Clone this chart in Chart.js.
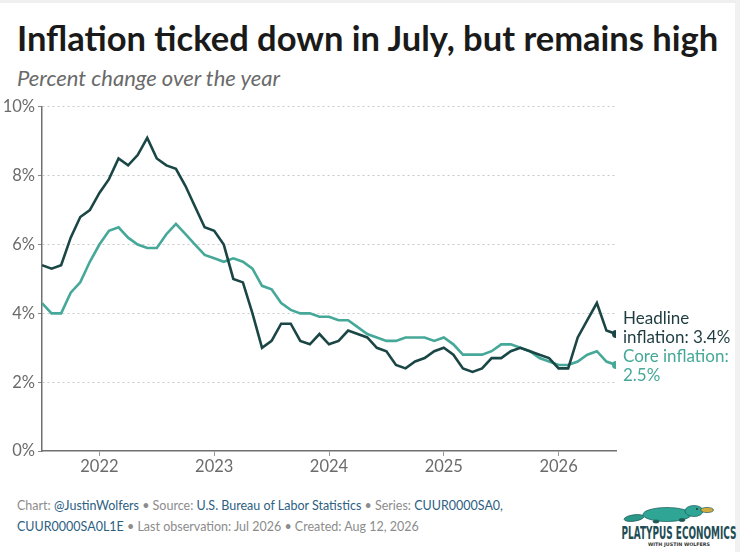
<!DOCTYPE html>
<html>
<head>
<meta charset="utf-8">
<script src="https://cdn.jsdelivr.net/npm/chart.js@4/dist/chart.umd.min.js"></script>
<style>
  html, body { margin: 0; padding: 0; background: #fff; }
  body { width: 740px; height: 552px; position: relative; overflow: hidden; font-family: Lato, sans-serif; }
  .topband { position: absolute; left: 0; top: 0; width: 740px; height: 3px; background: #efefef; }
  .rightband { position: absolute; left: 735px; top: 0; width: 5px; height: 552px; background: #f1f1f1; }
  #title { position: absolute; left: 17px; top: 21px; font-size: 34.5px; line-height: 34.5px; font-weight: 700; color: #1a1a1a; white-space: nowrap; }
  #subtitle { position: absolute; left: 17px; top: 67px; font-size: 22px; line-height: 22px; font-style: italic; color: #6a6a6a; white-space: nowrap; }
  #wrap { position: absolute; left: 0; top: 94px; width: 740px; height: 392px; }
  #footer { position: absolute; left: 17px; top: 495px; font-size: 12.5px; line-height: 21px; color: #8c8c8c; white-space: nowrap; }
  #footer .lk { color: #2d6082; }
  #logo { position: absolute; left: 620px; top: 500px; }
</style>
</head>
<body>
<div class="topband"></div>
<div class="rightband"></div>
<div id="title">Inflation ticked down in July, but remains high</div>
<div id="subtitle">Percent change over the year</div>
<div id="wrap"><canvas id="chart"></canvas></div>
<div id="footer">
  Chart: <span class="lk">@JustinWolfers</span> • Source: <span class="lk">U.S. Bureau of Labor Statistics</span> • Series: <span class="lk">CUUR0000SA0,</span><br>
  <span class="lk">CUUR0000SA0L1E</span> • Last observation: Jul 2026 • Created: Aug 12, 2026
</div>
<svg id="logo" width="118" height="48" viewBox="0 0 118 48">
  <g stroke="#1d5a57" stroke-width="0.7">
    <ellipse cx="14" cy="18" rx="10" ry="3.2" transform="rotate(-8 14 18)" fill="#2a9888"/>
    <ellipse cx="47" cy="14.5" rx="24" ry="7" fill="#2fa596"/>
    <ellipse cx="74" cy="11" rx="9" ry="5.5" fill="#2fa596"/>
    <ellipse cx="87" cy="10" rx="6.5" ry="2.6" fill="#d2ab3e"/>
    <ellipse cx="36" cy="21.5" rx="3" ry="1.6" fill="#1d5a57"/>
    <ellipse cx="62" cy="20" rx="3" ry="1.6" fill="#1d5a57"/>
  </g>
  <circle cx="77" cy="9" r="0.9" fill="#1a2a2a"/>
  <text x="59" y="38.5" text-anchor="middle" font-family="'Liberation Sans Narrow', 'DejaVu Sans Condensed', sans-serif" font-weight="700" font-size="17" fill="#1f4d55" textLength="115" lengthAdjust="spacingAndGlyphs">PLATYPUS ECONOMICS</text>
  <text x="59" y="45.5" text-anchor="middle" font-family="'DejaVu Sans', sans-serif" font-weight="700" font-size="4.8" fill="#333" textLength="62" lengthAdjust="spacingAndGlyphs">WITH JUSTIN WOLFERS</text>
</svg>
<script>
// monthly, Jul 2021 .. Jul 2026
const months = [
  'Jul 2021','Aug 2021','Sep 2021','Oct 2021','Nov 2021','Dec 2021',
  'Jan 2022','Feb 2022','Mar 2022','Apr 2022','May 2022','Jun 2022','Jul 2022','Aug 2022','Sep 2022','Oct 2022','Nov 2022','Dec 2022',
  'Jan 2023','Feb 2023','Mar 2023','Apr 2023','May 2023','Jun 2023','Jul 2023','Aug 2023','Sep 2023','Oct 2023','Nov 2023','Dec 2023',
  'Jan 2024','Feb 2024','Mar 2024','Apr 2024','May 2024','Jun 2024','Jul 2024','Aug 2024','Sep 2024','Oct 2024','Nov 2024','Dec 2024',
  'Jan 2025','Feb 2025','Mar 2025','Apr 2025','May 2025','Jun 2025','Jul 2025','Aug 2025','Sep 2025','Oct 2025','Nov 2025','Dec 2025',
  'Jan 2026','Feb 2026','Mar 2026','Apr 2026','May 2026','Jun 2026','Jul 2026'
];

const headline = [
  5.4, 5.3, 5.4, 6.2, 6.8, 7.0,
  7.5, 7.9, 8.5, 8.3, 8.6, 9.1, 8.5, 8.3, 8.2, 7.7, 7.1, 6.5,
  6.4, 6.0, 5.0, 4.9, 4.0, 3.0, 3.2, 3.7, 3.7, 3.2, 3.1, 3.4,
  3.1, 3.2, 3.5, 3.4, 3.3, 3.0, 2.9, 2.5, 2.4, 2.6, 2.7, 2.9,
  3.0, 2.8, 2.4, 2.3, 2.4, 2.7, 2.7, 2.9, 3.0, 2.9, 2.8, 2.7,
  2.4, 2.4, 3.3, 3.8, 4.3, 3.5, 3.4
];

const core = [
  4.3, 4.0, 4.0, 4.6, 4.9, 5.5,
  6.0, 6.4, 6.5, 6.2, 6.0, 5.9, 5.9, 6.3, 6.6, 6.3, 6.0, 5.7,
  5.6, 5.5, 5.6, 5.5, 5.3, 4.8, 4.7, 4.3, 4.1, 4.0, 4.0, 3.9,
  3.9, 3.8, 3.8, 3.6, 3.4, 3.3, 3.2, 3.2, 3.3, 3.3, 3.3, 3.2,
  3.3, 3.1, 2.8, 2.8, 2.8, 2.9, 3.1, 3.1, 3.0, 2.9, 2.7, 2.6,
  2.5, 2.5, 2.6, 2.8, 2.9, 2.6, 2.5
];

const yearTicks = ['2022', '2023', '2024', '2025', '2026'];
const yTicks = [0, 2, 4, 6, 8, 10];

const headlineLabel = ['Headline', 'inflation: 3.4%'];
const coreLabel = ['Core inflation:', '2.5%'];

const COLOR_HEADLINE = '#1b4646';
const COLOR_CORE = '#45a898';

const toPoints = arr => arr.map((v, i) => ({ x: i, y: v }));
const lastOnly = len => ctx => ctx.dataIndex === len - 1 ? 4 : 0;

// year ticks sit on the January of each year
const yearIdx = yearTicks.map(y => months.indexOf('Jan ' + y));

const endLabels = {
  id: 'endLabels',
  afterDatasetsDraw(chart) {
    const ctx = chart.ctx;
    const sets = [
      { meta: chart.getDatasetMeta(0), lines: headlineLabel, color: '#1e3c40', shift: -6 },
      { meta: chart.getDatasetMeta(1), lines: coreLabel, color: COLOR_CORE, shift: 1 }
    ];
    ctx.save();
    ctx.font = '17px Lato';
    ctx.textBaseline = 'middle';
    ctx.textAlign = 'left';
    sets.forEach(s => {
      const pt = s.meta.data[s.meta.data.length - 1];
      const lh = 19.5;
      const y0 = pt.y + s.shift - lh / 2;
      ctx.fillStyle = s.color;
      s.lines.forEach((t, k) => ctx.fillText(t, pt.x + 7, y0 + k * lh));
    });
    ctx.restore();
  }
};

new Chart(document.getElementById('chart').getContext('2d'), {
  type: 'line',
  data: {
    datasets: [
      {
        label: 'Headline',
        data: toPoints(headline),
        borderColor: COLOR_HEADLINE,
        backgroundColor: COLOR_HEADLINE,
        borderWidth: 2.6,
        pointRadius: lastOnly(headline.length),
        pointBorderWidth: 0,
        tension: 0,
        fill: false
      },
      {
        label: 'Core',
        data: toPoints(core),
        borderColor: COLOR_CORE,
        backgroundColor: COLOR_CORE,
        borderWidth: 2.6,
        pointRadius: lastOnly(core.length),
        pointBorderWidth: 0,
        tension: 0,
        fill: false
      }
    ]
  },
  options: {
    responsive: true,
    maintainAspectRatio: false,
    animation: false,
    layout: { padding: { top: 12, right: 124, bottom: 0, left: 0 } },
    plugins: {
      legend: { display: false },
      tooltip: { enabled: false }
    },
    scales: {
      x: {
        type: 'linear',
        min: 0,
        max: months.length - 1,
        afterBuildTicks: s => { s.ticks = yearIdx.map(v => ({ value: v })); },
        afterFit: s => { s.height = 35; },
        grid: { drawOnChartArea: false, tickLength: 5, tickColor: '#9a9a9a', tickWidth: 1 },
        border: { color: '#707070', width: 1.5 },
        ticks: {
          autoSkip: false,
          maxRotation: 0,
          padding: 1,
          color: '#6b6b6b',
          font: { family: 'Lato', size: 16.5 },
          callback: v => yearTicks[yearIdx.indexOf(v)]
        }
      },
      y: {
        min: 0,
        max: 10,
        afterBuildTicks: s => { s.ticks = yTicks.map(v => ({ value: v })); },
        afterFit: s => { s.width = 42; },
        grid: {
          color: ctx => ctx.tick && ctx.tick.value === 0 ? 'rgba(0,0,0,0)' : '#c9c9c9',
          tickColor: '#8a8a8a',
          tickLength: 4,
          tickBorderDash: []
        },
        border: { color: '#707070', width: 1.5, dash: [2, 3] },
        ticks: {
          padding: 3,
          color: '#6b6b6b',
          font: { family: 'Lato', size: 16.5 },
          callback: v => v + '%'
        }
      }
    }
  },
  plugins: [endLabels]
});
</script>
</body>
</html>
